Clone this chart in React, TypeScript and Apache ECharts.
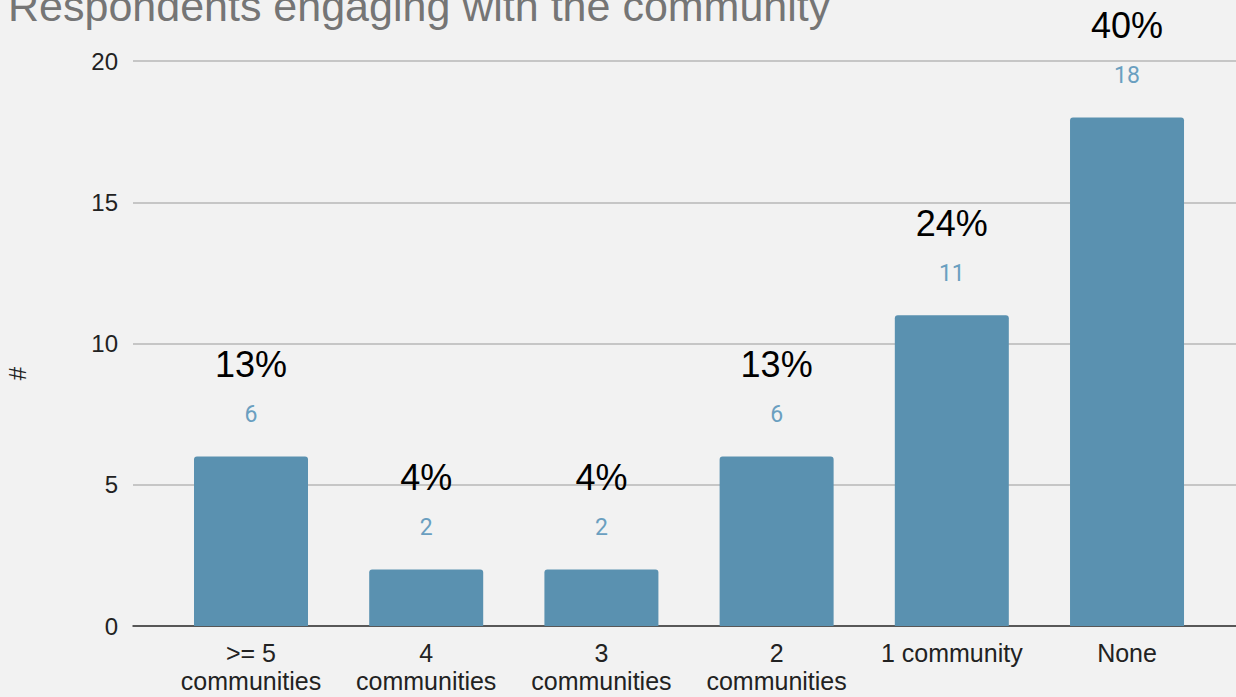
import React, { useEffect, useRef } from "react";
import * as echarts from "echarts";

const categories = [">= 5\ncommunities", "4\ncommunities", "3\ncommunities", "2\ncommunities", "1 community", "None"];
const counts = [6, 2, 2, 6, 11, 18];
const percentLabels = ["13%", "4%", "4%", "13%", "24%", "40%"];
const yMin = 0;
const yMax = 20;
const yStep = 5;

export default function App() {
  const ref = useRef<HTMLDivElement>(null);
  useEffect(() => {
    const chart = echarts.init(ref.current!, null, { renderer: "svg" });
    const font = "'Liberation Sans', Arial, sans-serif";
    chart.setOption({
      animation: false,
      backgroundColor: "#f2f2f2",
      title: {
        text: "Respondents engaging with the community",
        left: 3,
        top: -21,
        textStyle: { fontSize: 43, fontWeight: "normal", color: "#757575", fontFamily: font },
      },
      grid: { left: 133, right: 0, top: 61, bottom: 71, outerBoundsMode: "none" },
      xAxis: {
        type: "value",
        min: -0.6735,
        max: 5.622,
        splitLine: { show: false },
        axisTick: { show: false },
        axisLine: { lineStyle: { color: "#333", width: 1.5 } },
        axisLabel: {
          customValues: categories.map((_, i) => i),
          formatter: (v: number) => categories[Math.round(v)] ?? "",
          fontSize: 25,
          lineHeight: 28,
          color: "#222",
          margin: 13,
          fontFamily: font,
        },
      },
      yAxis: {
        type: "value",
        min: yMin,
        max: yMax,
        interval: yStep,
        name: "#",
        nameLocation: "middle",
        nameGap: 104,
        nameRotate: 90,
        nameTextStyle: { fontSize: 24, color: "#222", fontFamily: font, padding: [0, 60, 0, 0] },
        axisLine: { show: false },
        axisTick: { show: false },
        axisLabel: { fontSize: 24, color: "#222", margin: 15, fontFamily: font },
        splitLine: { lineStyle: { color: "#c6c6c6", width: 2 } },
      },
      series: [
        {
          type: "bar",
          data: counts.map((v, i) => [i, v]),
          barWidth: 114,
          itemStyle: { color: "#5a91b0", borderRadius: [3, 3, 0, 0] },
          label: {
            show: true,
            position: "top",
            distance: 28,
            formatter: (p: any) => `{p|${percentLabels[p.dataIndex]}}\n{v|${counts[p.dataIndex]}}`,
            rich: {
              p: { fontSize: 36, lineHeight: 72, color: "#000", fontFamily: font },
              v: { fontSize: 23, lineHeight: 28, color: "#6a9fc0", fontFamily: "Roboto, sans-serif" },
            },
          },
        },
      ],
    });
    return () => chart.dispose();
  }, []);
  return <div ref={ref} style={{ position: "fixed", left: 0, top: 0, width: 1236, height: 697 }} />;
}
